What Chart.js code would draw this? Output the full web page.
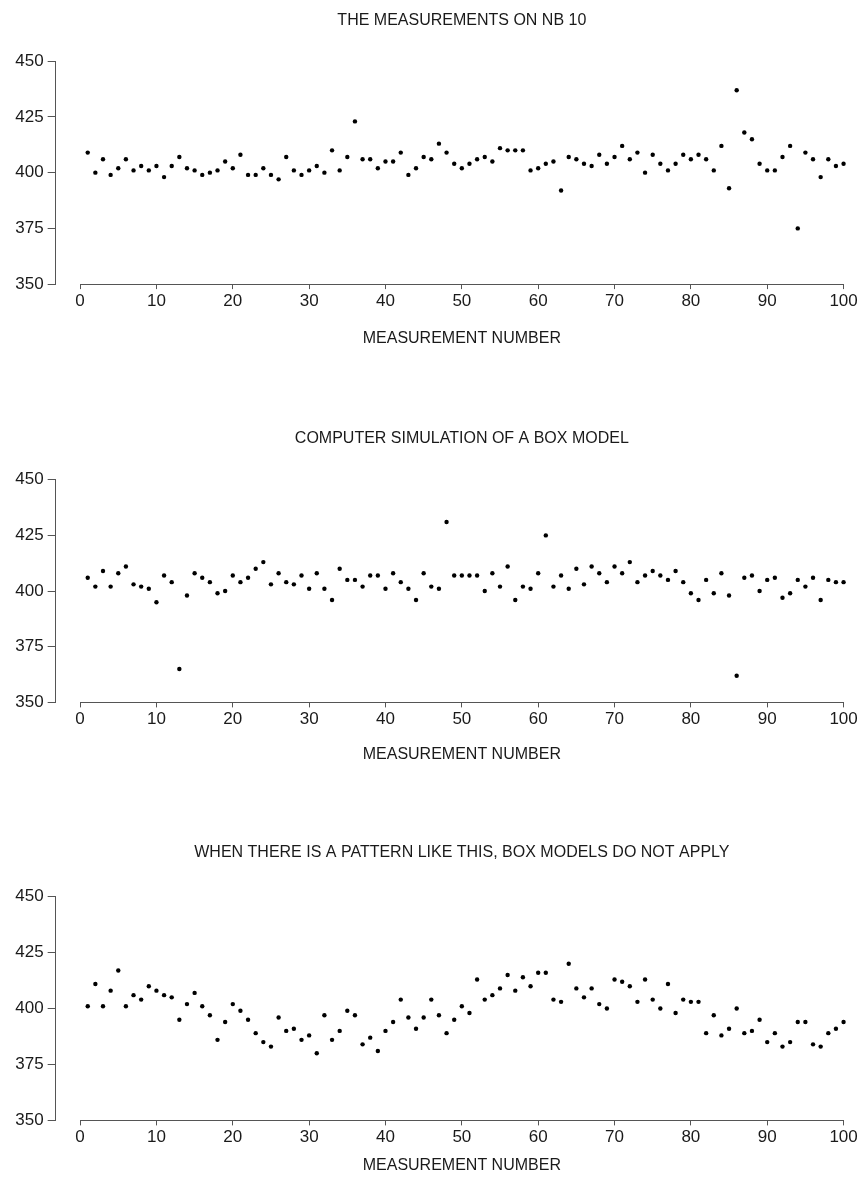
<!DOCTYPE html>
<html>
<head>
<meta charset="utf-8">
<title>NB 10 measurements</title>
<script src="https://cdn.jsdelivr.net/npm/chart.js@4.4.1/dist/chart.umd.min.js"></script>
<style>
  html, body { margin: 0; padding: 0; background: #fff; }
  body { width: 862px; height: 1182px; position: relative; overflow: hidden; }
  .panel { position: absolute; left: 0; }
  .panel canvas { display: block; }
</style>
</head>
<body>
<div class="panel" id="panel1"><canvas id="nbChart"></canvas></div>
<div class="panel" id="panel2"><canvas id="simChart"></canvas></div>
<div class="panel" id="panel3"><canvas id="patternChart"></canvas></div>

<script>
// Measurements on NB 10 (micrograms below 10 g), in order taken
const nb10Values = [
  409, 400, 406, 399, 402, 406, 401, 403, 401, 403,
  398, 403, 407, 402, 401, 399, 400, 401, 405, 402,
  408, 399, 399, 402, 399, 397, 407, 401, 399, 401,
  403, 400, 410, 401, 407, 423, 406, 406, 402, 405,
  405, 409, 399, 402, 407, 406, 413, 409, 404, 402,
  404, 406, 407, 405, 411, 410, 410, 410, 401, 402,
  404, 405, 392, 407, 406, 404, 403, 408, 404, 407,
  412, 406, 409, 400, 408, 404, 401, 404, 408, 406,
  408, 406, 401, 412, 393, 437, 418, 415, 404, 401,
  401, 407, 412, 375, 409, 406, 398, 406, 403, 404
];

// Draws from a box model
const simValues = [
  406, 402, 409, 402, 408, 411, 403, 402, 401, 395,
  407, 404, 365, 398, 408, 406, 404, 399, 400, 407,
  404, 406, 410, 413, 403, 408, 404, 403, 407, 401,
  408, 401, 396, 410, 405, 405, 402, 407, 407, 401,
  408, 404, 401, 396, 408, 402, 401, 431, 407, 407,
  407, 407, 400, 408, 402, 411, 396, 402, 401, 408,
  425, 402, 407, 401, 410, 403, 411, 408, 404, 411,
  408, 413, 404, 407, 409, 407, 405, 409, 404, 399,
  396, 405, 399, 408, 398, 362, 406, 407, 400, 405,
  406, 397, 399, 405, 402, 406, 396, 405, 404, 404
];

// Series with a drift pattern
const patternValues = [
  401, 411, 401, 408, 417, 401, 406, 404, 410, 408,
  406, 405, 395, 402, 407, 401, 397, 386, 394, 402,
  399, 395, 389, 385, 383, 396, 390, 391, 386, 388,
  380, 397, 386, 390, 399, 397, 384, 387, 381, 390,
  394, 404, 396, 391, 396, 404, 397, 389, 395, 401,
  398, 413, 404, 406, 409, 415, 408, 414, 410, 416,
  416, 404, 403, 420, 409, 405, 409, 402, 400, 413,
  412, 410, 403, 413, 404, 400, 411, 398, 404, 403,
  403, 389, 397, 388, 391, 400, 389, 390, 395, 385,
  389, 383, 385, 394, 394, 384, 383, 389, 391, 394
];

const xTicks = [0, 10, 20, 30, 40, 50, 60, 70, 80, 90, 100];
const yTicks = [350, 375, 400, 425, 450];
const xAxisTitle = 'MEASUREMENT NUMBER';

const titles = [
  'THE MEASUREMENTS ON NB 10',
  'COMPUTER SIMULATION OF A BOX MODEL',
  'WHEN THERE IS A PATTERN LIKE THIS, BOX MODELS DO NOT APPLY'
];

const fontFamily = '"Liberation Sans", Arial, Helvetica, sans-serif';
const textColor = '#1a1a1a';
const axisColor = '#555';

// R-style x axis line, running only from the first to the last tick
const xBaseline = {
  id: 'xBaseline',
  afterDraw(chart) {
    const x = chart.scales.x;
    const ctx = chart.ctx;
    const y = Math.round(x.top) + 0.5;
    ctx.save();
    ctx.strokeStyle = axisColor;
    ctx.lineWidth = 1;
    ctx.beginPath();
    ctx.moveTo(x.getPixelForValue(xTicks[0]), y);
    ctx.lineTo(x.getPixelForValue(xTicks[xTicks.length - 1]), y);
    ctx.stroke();
    ctx.restore();
  }
};

function toPoints(values) {
  return values.map((v, i) => ({ x: i + 1, y: v }));
}

function makeChart(canvasId, panelId, values, title, box) {
  const panel = document.getElementById(panelId);
  panel.style.top = box.top + 'px';
  const canvas = document.getElementById(canvasId);
  // the plot region runs a little past the right edge of the page, as in the original
  canvas.width = 890;
  canvas.height = box.height;
  canvas.style.width = '890px';
  canvas.style.height = box.height + 'px';

  return new Chart(canvas.getContext('2d'), {
    type: 'scatter',
    data: {
      datasets: [{
        data: toPoints(values),
        backgroundColor: '#000',
        borderWidth: 0,
        pointRadius: 2.2,
        pointHoverRadius: 2.2
      }]
    },
    options: {
      responsive: false,
      animation: false,
      devicePixelRatio: 1,
      layout: {
        padding: { top: 3, left: 11.3, right: 22, bottom: box.bottomPad }
      },
      plugins: {
        legend: { display: false },
        tooltip: { enabled: false },
        title: {
          display: true,
          fullSize: false,
          text: title,
          color: textColor,
          font: { family: fontFamily, size: 16, weight: 'normal' },
          padding: { top: 8, bottom: box.titlePad }
        }
      },
      scales: {
        x: {
          type: 'linear',
          min: -3.2,
          max: 103.2,
          afterBuildTicks: (axis) => { axis.ticks = xTicks.map(v => ({ value: v })); },
          border: { display: false },
          grid: {
            drawOnChartArea: false,
            drawTicks: true,
            tickLength: 5,
            color: axisColor
          },
          ticks: {
            color: textColor,
            padding: 2,
            maxRotation: 0,
            autoSkip: false,
            font: { family: fontFamily, size: 17 }
          },
          title: {
            display: true,
            text: xAxisTitle,
            color: textColor,
            font: { family: fontFamily, size: 16, weight: 'normal' },
            padding: { top: box.axisTitlePad, bottom: 0 }
          }
        },
        y: {
          type: 'linear',
          min: yTicks[0],
          max: yTicks[yTicks.length - 1],
          afterBuildTicks: (axis) => { axis.ticks = yTicks.map(v => ({ value: v })); },
          border: { display: true, color: axisColor, width: 1 },
          grid: {
            drawOnChartArea: false,
            drawTicks: true,
            tickLength: 8,
            color: axisColor
          },
          ticks: {
            color: textColor,
            padding: 4,
            font: { family: fontFamily, size: 17 }
          }
        }
      }
    },
    plugins: [xBaseline]
  });
}

makeChart('nbChart', 'panel1', nb10Values, titles[0],
  { top: 0, height: 360, titlePad: 31, axisTitlePad: 15.8, bottomPad: 11.5 });
makeChart('simChart', 'panel2', simValues, titles[1],
  { top: 418, height: 360, titlePad: 31.5, axisTitlePad: 13.6, bottomPad: 13.4 });
makeChart('patternChart', 'panel3', patternValues, titles[2],
  { top: 832, height: 350, titlePad: 34.5, axisTitlePad: 6.6, bottomPad: 6.4 });
</script>
</body>
</html>
